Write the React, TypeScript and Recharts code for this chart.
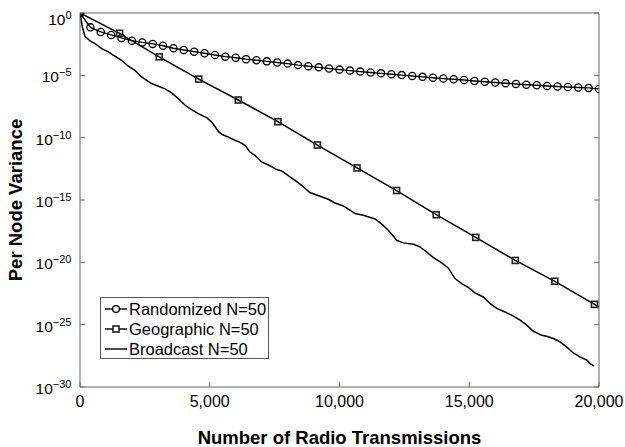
import React from 'react';
import { LineChart, Line, XAxis, YAxis } from 'recharts';

const FONT = '"Liberation Sans", Arial, Helvetica, sans-serif';

// x ticks / y ticks (log10 of variance)
const xTicks = [0, 5000, 10000, 15000, 20000];
const yTickExp = [-30, -25, -20, -15, -10, -5, 0];

// Randomized gossip, N=50 (circles)
const randTx = [
  0, 400, 800, 1200, 1600, 2000, 2400, 2800, 3200, 3600, 4000, 4400, 4800, 5200, 5600, 6000, 6400,
  6800, 7200, 7600, 8000, 8400, 8800, 9200, 9600, 10000, 10400, 10800, 11200, 11600, 12000, 12400,
  12800, 13200, 13600, 14000, 14400, 14800, 15200, 15600, 16000, 16400, 16800, 17200, 17600, 18000,
  18400, 18800, 19200, 19600, 20000,
];
const randExp = [
  0, -1.15, -1.52, -1.76, -2.0, -2.22, -2.36, -2.48, -2.63, -2.83, -2.97, -3.1, -3.23, -3.37, -3.5,
  -3.59, -3.7, -3.79, -3.88, -3.97, -4.06, -4.18, -4.27, -4.36, -4.45, -4.54, -4.62, -4.7, -4.77,
  -4.84, -4.91, -4.98, -5.05, -5.12, -5.19, -5.26, -5.32, -5.38, -5.45, -5.51, -5.57, -5.63, -5.69,
  -5.75, -5.8, -5.85, -5.9, -5.94, -5.98, -6.01, -6.09,
];

// Geographic gossip, N=50 (squares); last point lies past the right edge
const geoTx = [0, 1525, 3050, 4575, 6100, 7625, 9150, 10675, 12200, 13725, 15250, 16775, 18300, 19825, 21350];
const geoExp = [0, -1.63, -3.52, -5.3, -6.98, -8.72, -10.59, -12.43, -14.24, -16.18, -18.0, -19.85, -21.52, -23.37, -25.2];

// Broadcast gossip, N=50 (plain line)
const bcTx = [
  0, 90, 190, 385, 580, 835, 1090, 1350, 1605, 1860, 2120, 2375, 2570, 2760, 3020, 3280, 3530, 3790,
  4050, 4300, 4560, 4880, 5070, 5200, 5330, 5460, 5720, 5970, 6170, 6360, 6550, 6740, 7000, 7320,
  7580, 7770, 7960, 8090, 8290, 8540, 8860, 9250, 9570, 9830, 10150, 10400, 10600, 10920, 11370,
  11630, 11880, 12080, 12200, 12460, 12850, 13100, 13360, 13620, 13940, 14190, 14450, 14710, 14970,
  15220, 15540, 15800, 16060, 16380, 16700, 16960, 17210, 17470, 17790, 17980, 18240, 18500, 18750,
  19010, 19270, 19530, 19650, 19810,
];
const bcExp = [
  0, -1.12, -1.87, -2.24, -2.46, -2.86, -3.12, -3.47, -3.79, -4.27, -4.6, -5.13, -5.4, -5.66, -5.88,
  -6.09, -6.41, -6.87, -7.4, -7.75, -8.07, -8.39, -8.74, -9.1, -9.5, -9.73, -9.96, -10.21, -10.38,
  -10.61, -11.15, -11.41, -11.95, -12.25, -12.56, -12.67, -12.94, -13.15, -13.42, -13.82, -14.4,
  -14.7, -14.94, -15.24, -15.48, -15.82, -16.09, -16.22, -16.52, -16.94, -17.43, -17.91, -18.23,
  -18.44, -18.55, -18.76, -19.17, -19.62, -20.05, -20.45, -21.3, -21.7, -22.02, -22.45, -22.78,
  -23.3, -23.7, -23.98, -24.32, -24.64, -25.04, -25.53, -25.85, -25.93, -26.11, -26.38, -26.78,
  -27.27, -27.59, -27.85, -28.12, -28.31,
];

const seriesNames = ['Randomized N=50', 'Geographic N=50', 'Broadcast N=50'];

const toRows = (tx: number[], ex: number[]) => tx.map((t, i) => ({ t, v: Math.pow(10, ex[i]) }));
const randomizedData = toRows(randTx, randExp);
const geographicData = toRows(geoTx, geoExp);
const broadcastData = toRows(bcTx, bcExp);
const yTicks = yTickExp.map((e) => Math.pow(10, e));

const CircleDot = (props: any) => {
  const { cx, cy } = props;
  if (cx == null || cy == null) return null;
  return <circle cx={cx} cy={cy} r={3.6} fill="none" stroke="#000" strokeWidth={1.3} />;
};

const SquareDot = (props: any) => {
  const { cx, cy } = props;
  if (cx == null || cy == null) return null;
  return <rect x={cx - 3} y={cy - 3} width={6} height={6} fill="none" stroke="#222" strokeWidth={1.6} />;
};

const YTick = (props: any) => {
  const { x, y, payload } = props;
  const e = Math.round(Math.log10(payload.value));
  // top label sits a little lower so it stays inside the figure
  const shift = e === 0 ? 6 : 1.5;
  return (
    <text x={x} y={y + shift} dy={5.5} textAnchor="end" fontFamily={FONT} fill="#000">
      <tspan fontSize={15.5}>10</tspan>
      <tspan fontSize={11} dy={-6}>{e === 0 ? '0' : '\u2212' + Math.abs(e)}</tspan>
    </text>
  );
};

const XTitle = (props: any) => {
  const { x, y, width } = props.viewBox;
  return (
    <text x={x + width / 2} y={y + 57} textAnchor="middle" fontFamily={FONT} fontWeight="bold" fontSize={18.5} fill="#000">
      Number of Radio Transmissions
    </text>
  );
};

const YTitle = (props: any) => {
  const { x, y, height } = props.viewBox;
  const cx = x + 15;
  const cy = y + height / 2;
  return (
    <text x={cx} y={cy} transform={`rotate(-90 ${cx} ${cy})`} dy={6.5} textAnchor="middle" fontFamily={FONT} fontWeight="bold" fontSize={18.5} fill="#000">
      Per Node Variance
    </text>
  );
};

const LegendBox = () => (
  <div
    style={{
      position: 'absolute',
      left: 100,
      top: 297,
      border: '1px solid #555',
      background: '#fff',
      width: 169,
      height: 62,
      boxSizing: 'border-box',
      fontFamily: FONT,
      fontSize: 16.5,
      padding: '1px 0 0 3px',
      color: '#000',
    }}
  >
    {seriesNames.map((name, i) => (
      <div key={name} style={{ display: 'flex', alignItems: 'center', height: 20 }}>
        <svg width={24} height={20} style={{ display: 'block' }}>
          <line x1={1} y1={10} x2={23} y2={10} stroke="#000" strokeWidth={1.4} />
          {i === 0 && <circle cx={12} cy={10} r={3.4} fill="#fff" stroke="#000" strokeWidth={1.3} />}
          {i === 1 && <rect x={9} y={7} width={6} height={6} fill="#fff" stroke="#222" strokeWidth={1.6} />}
        </svg>
        <span style={{ marginLeft: 1, lineHeight: '20px', whiteSpace: 'nowrap' }}>{name}</span>
      </div>
    ))}
  </div>
);

export default function App() {
  return (
    <div style={{ position: 'absolute', left: 0, top: 0, width: 625, height: 447 }}>
      <LineChart width={625} height={447} margin={{ top: 12, right: 25, left: 0, bottom: 0 }}>
        <XAxis
          xAxisId="b"
          dataKey="t"
          type="number"
          domain={[0, 20000]}
          allowDataOverflow
          ticks={xTicks}
          interval={0}
          height={60}
          stroke="#666"
          tickSize={-5}
          tickMargin={14}
          tick={{ fill: '#000', fontSize: 16, fontFamily: FONT }}
          tickFormatter={(v: number) => v.toLocaleString('en-US')}
          label={<XTitle />}
        />
        <XAxis
          xAxisId="t"
          orientation="top"
          type="number"
          domain={[0, 20000]}
          allowDataOverflow
          ticks={xTicks}
          interval={0}
          height={1}
          stroke="#666"
          tickSize={-5}
          tickFormatter={() => ''}
        />
        <YAxis
          yAxisId="l"
          type="number"
          scale="log"
          domain={[1e-30, 1]}
          allowDataOverflow
          ticks={yTicks}
          interval={0}
          width={80}
          stroke="#666"
          tickSize={-5}
          tickMargin={13.5}
          tick={<YTick />}
          label={<YTitle />}
        />
        <YAxis
          yAxisId="r"
          orientation="right"
          type="number"
          scale="log"
          domain={[1e-30, 1]}
          allowDataOverflow
          ticks={yTicks}
          interval={0}
          width={1}
          stroke="#666"
          tickSize={-5}
          tickFormatter={() => ''}
        />
        <Line
          xAxisId="b"
          yAxisId="l"
          data={broadcastData}
          dataKey="v"
          name={seriesNames[2]}
          type="linear"
          stroke="#000"
          strokeWidth={1.5}
          dot={false}
          isAnimationActive={false}
        />
        <Line
          xAxisId="b"
          yAxisId="l"
          data={geographicData}
          dataKey="v"
          name={seriesNames[1]}
          type="linear"
          stroke="#000"
          strokeWidth={1.5}
          dot={<SquareDot />}
          isAnimationActive={false}
        />
        <Line
          xAxisId="b"
          yAxisId="l"
          data={randomizedData}
          dataKey="v"
          name={seriesNames[0]}
          type="linear"
          stroke="#000"
          strokeWidth={1.4}
          dot={<CircleDot />}
          isAnimationActive={false}
        />
      </LineChart>
      <LegendBox />
    </div>
  );
}
